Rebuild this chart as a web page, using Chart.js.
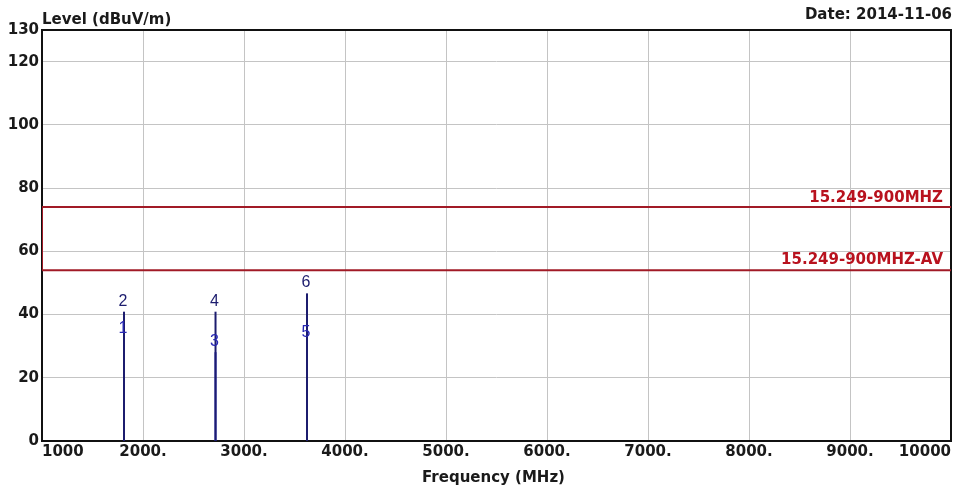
<!DOCTYPE html>
<html>
<head>
<meta charset="utf-8">
<title>Radiated Emission</title>
<script src="https://cdn.jsdelivr.net/npm/chart.js@4.4.1/dist/chart.umd.min.js"></script>
<style>
  html, body { margin: 0; padding: 0; background: #fff; }
  #wrap { width: 968px; height: 493px; position: relative; }
</style>
</head>
<body>
<div id="wrap"><canvas id="emi"></canvas></div>
<script>
// --- measurement data ---
const markerFreqs = [1812, 2718, 3624];       // MHz, harmonics of 906
const avgLevels = [32.3, 28.1, 31.0];        // dBuV/m, markers 1,3,5
const peakLevels = [40.9, 40.9, 46.7];       // dBuV/m, markers 2,4,6

const limitFreqs = [1000, 10000];
const peakLimit = 74;
const avgLimit = 54;
const peakLimitName = '15.249-900MHZ';
const avgLimitName = '15.249-900MHZ-AV';

const xTicks = [1000, 2000, 3000, 4000, 5000, 6000, 7000, 8000, 9000, 10000];
const yTicks = [0, 20, 40, 60, 80, 100, 120, 130];

const FONT = '"DejaVu Sans", "Liberation Sans", Arial, sans-serif';
const LIMIT_RED = '#a11a26';
const PEAK_NAVY = '#1c1c6e';
const AVG_BLUE = '#2828b4';

const xLabel = (v) => (v === 1000 || v === 10000 ? String(v) : v + '.');

// --- datasets (first in list is drawn on top) ---
const datasets = [];

// limit lines, joined at the start frequency
datasets.push({
  label: peakLimitName,
  data: [
    { x: limitFreqs[0], y: avgLimit },
    { x: limitFreqs[0], y: peakLimit },
    { x: limitFreqs[1], y: peakLimit },
  ],
  borderColor: LIMIT_RED,
  borderWidth: 2,
});
datasets.push({
  label: avgLimitName,
  data: limitFreqs.map((f) => ({ x: f, y: avgLimit })),
  borderColor: LIMIT_RED,
  borderWidth: 2,
});

// vertical marker lines, peak over average
markerFreqs.forEach((f, i) => {
  datasets.push({
    label: 'PK ' + (i * 2 + 2),
    data: [{ x: f, y: 0 }, { x: f, y: peakLevels[i] }],
    borderColor: PEAK_NAVY,
    borderWidth: 2,
  });
  datasets.push({
    label: 'AV ' + (i * 2 + 1),
    data: [{ x: f, y: 0 }, { x: f, y: avgLevels[i] }],
    borderColor: AVG_BLUE,
    borderWidth: 2,
  });
});

datasets.forEach((d) => {
  d.showLine = true;
  d.pointRadius = 0;
  d.fill = false;
  d.tension = 0;
});

// --- plugins ---
const framePlugin = {
  id: 'frame',
  beforeDatasetsDraw(chart) {
    const { ctx, chartArea: a } = chart;
    ctx.save();
    ctx.strokeStyle = '#111';
    ctx.lineWidth = 2;
    ctx.strokeRect(a.left, a.top, a.right - a.left, a.bottom - a.top);
    ctx.restore();
  },
};

const textPlugin = {
  id: 'texts',
  afterDraw(chart) {
    const { ctx, chartArea: a, scales } = chart;
    const xs = scales.x, ys = scales.y;
    ctx.save();

    // axis titles and date
    ctx.fillStyle = '#1a1a1a';
    ctx.font = 'bold 15px ' + FONT;
    ctx.textBaseline = 'alphabetic';
    ctx.textAlign = 'left';
    ctx.fillText('Level (dBuV/m)', a.left, 24);
    ctx.textAlign = 'right';
    ctx.fillText('Date: 2014-11-06', a.right + 1, 19);
    ctx.textAlign = 'center';
    ctx.fillText('Frequency (MHz)', (a.left + a.right) / 2 - 3, 482);

    // limit names
    ctx.fillStyle = '#b8121e';
    ctx.textAlign = 'right';
    ctx.fillText(peakLimitName, a.right - 8, ys.getPixelForValue(peakLimit) - 5);
    ctx.fillText(avgLimitName, a.right - 8, ys.getPixelForValue(avgLimit) - 6);

    // marker numbers just above each point
    ctx.font = '16px "Liberation Sans", Arial, sans-serif';
    ctx.textAlign = 'center';
    markerFreqs.forEach((f, i) => {
      const px = xs.getPixelForValue(f) - 1;
      ctx.fillStyle = AVG_BLUE;
      ctx.fillText(String(i * 2 + 1), px, ys.getPixelForValue(avgLevels[i]) - 6);
      ctx.fillStyle = PEAK_NAVY;
      ctx.fillText(String(i * 2 + 2), px, ys.getPixelForValue(peakLevels[i]) - 6);
    });
    ctx.restore();
  },
};

// --- chart ---
new Chart(document.getElementById('emi'), {
  type: 'scatter',
  data: { datasets },
  plugins: [framePlugin, textPlugin],
  options: {
    responsive: true,
    maintainAspectRatio: false,
    animation: false,
    layout: { padding: { top: 30, right: 17, bottom: 0, left: 0 } },
    plugins: {
      legend: { display: false },
      tooltip: { enabled: false },
    },
    scales: {
      x: {
        type: 'linear',
        min: xTicks[0],
        max: xTicks[xTicks.length - 1],
        afterBuildTicks: (s) => { s.ticks = xTicks.map((v) => ({ value: v })); },
        afterFit: (s) => { s.height = 52; },
        border: { display: false },
        grid: {
          drawTicks: false,
          color: '#c4c4c4',
          lineWidth: 1,
        },
        ticks: {
          align: 'inner',
          padding: 2,
          color: '#1a1a1a',
          font: { family: FONT, size: 15, weight: 'bold' },
          maxRotation: 0,
          autoSkip: false,
          callback: (v) => xLabel(v),
        },
      },
      y: {
        type: 'linear',
        min: yTicks[0],
        max: yTicks[yTicks.length - 1],
        afterBuildTicks: (s) => { s.ticks = yTicks.map((v) => ({ value: v })); },
        afterFit: (s) => { s.width = 42; },
        border: { display: false },
        grid: {
          drawTicks: false,
          color: '#c4c4c4',
          lineWidth: 1,
        },
        ticks: {
          padding: 3,
          color: '#1a1a1a',
          font: { family: FONT, size: 15, weight: 'bold' },
          autoSkip: false,
          callback: (v) => String(v),
        },
      },
    },
  },
});
</script>
</body>
</html>
